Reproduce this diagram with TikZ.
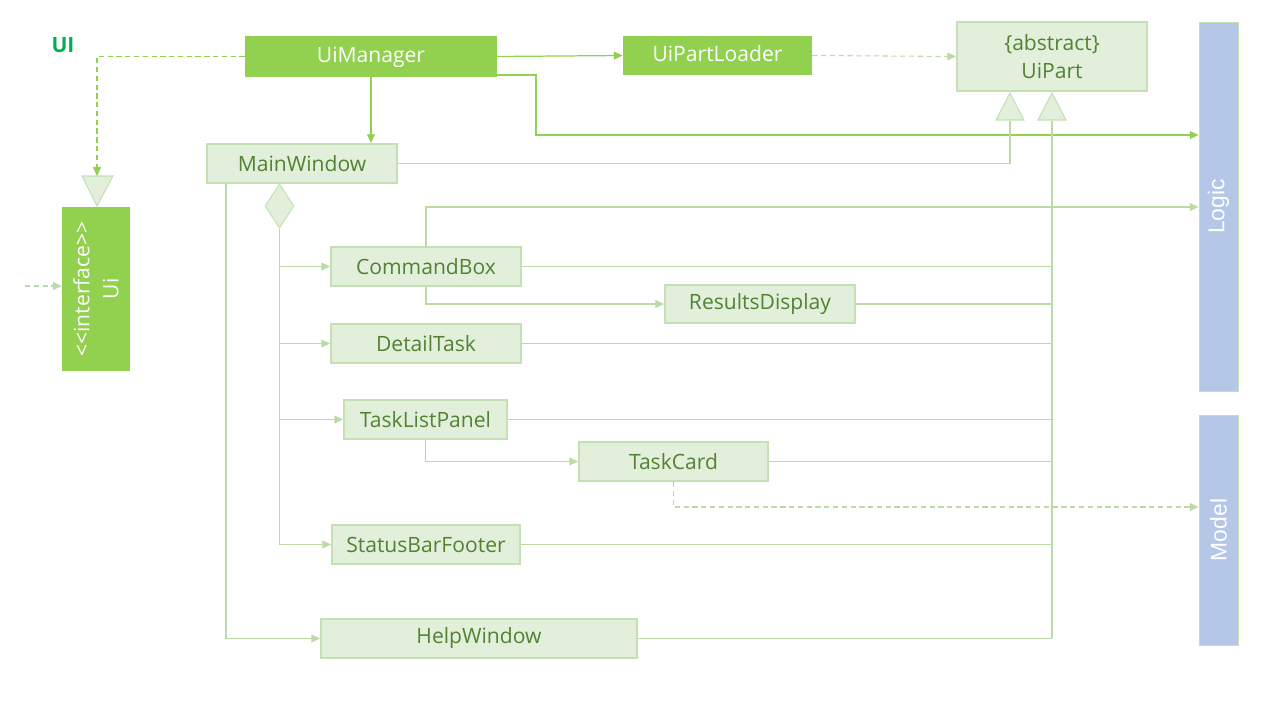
\documentclass[tikz,border=0pt]{standalone}
\usepackage{fontspec}
\setmainfont{Open Sans}
\newfontfamily\arialfont{Liberation Sans}
\usetikzlibrary{arrows.meta,shapes.geometric}

\definecolor{mgrgreen}{HTML}{92D050}
\definecolor{palefill}{HTML}{E2EFDA}
\definecolor{paleedge}{HTML}{C5E0B4}
\definecolor{linegreen}{HTML}{BCDAA6}
\definecolor{textgreen}{HTML}{548235}
\definecolor{pkgblue}{HTML}{B4C7E7}
\definecolor{labelgreen}{HTML}{00B050}

\tikzset{
  mgrbox/.style={fill=mgrgreen, text=white, inner sep=0pt, text height=10pt, text depth=3pt},
  partbox/.style={fill=palefill, draw=paleedge, line width=1.1pt, text=textgreen,
    inner sep=0pt, minimum width=3.8cm, minimum height=0.78cm},
  pkgbox/.style={fill=pkgblue, draw=paleedge, line width=0.5pt,
    inner sep=0pt, minimum width=0.78cm},
  pkgtext/.style={text=white, rotate=90, font=\arialfont\fontsize{13}{15}\selectfont},
  conn/.style={draw=linegreen, line width=0.6pt},
  mgrconn/.style={draw=mgrgreen, line width=0.7pt},
  tip/.style={-{Triangle[length=5pt,width=4.5pt]}},
  dashconn/.style={dash pattern=on 3pt off 2pt},
  gentri/.style={fill=palefill, draw=paleedge, line width=0.6pt},
}

\begin{document}
\begin{tikzpicture}[x=0.02cm, y=-0.02cm, font=\fontsize{12}{14}\selectfont]
    \useasboundingbox (0,0) rectangle (1280,720);

    % Package label
    \node[text=labelgreen, font=\bfseries\fontsize{12}{14}\selectfont] (uilabel) at (63,45) {UI};

    % Manager boxes
    \node[mgrbox, minimum width=5.04cm, minimum height=0.82cm] (uimgr) at (371,56.5) {UiManager};
    \node[mgrbox, minimum width=3.78cm, minimum height=0.78cm] (loader) at (717.5,55.5) {UiPartLoader};
    \node[mgrbox, rotate=90, align=center, text height=, text depth=,
          font=\fontsize{12}{16.5}\selectfont,
          minimum width=3.28cm, minimum height=1.36cm] (ui) at (96,289) {<{}<interface>{}>\\Ui};

    % Abstract part
    \node[partbox, minimum height=1.38cm, align=center,
          font=\fontsize{12}{16}\selectfont] (uipart) at (1052,56.5) {\{abstract\}\\UiPart};

    % Other components
    \node[pkgbox, minimum height=7.38cm] (logic) at (1218.5,206.5) {};
    \node[pkgtext] (logiclabel) at (logic) {Logic};
    \node[pkgbox, minimum height=4.6cm] (model) at (1218.5,530) {};
    \node[pkgtext] (modellabel) at (model) {Model};

    % Parts
    \node[partbox] (mainwin) at (302,163.5) {MainWindow};
    \node[partbox] (cmdbox) at (426,266.5) {CommandBox};
    \node[partbox, minimum height=0.76cm] (results) at (760,304) {ResultsDisplay};
    \node[partbox] (detail) at (426,343.5) {DetailTask};
    \node[partbox, minimum width=3.26cm] (tasklist) at (425.5,419.5) {TaskListPanel};
    \node[partbox, minimum width=3.78cm] (taskcard) at (673.5,461.5) {TaskCard};
    \node[partbox, minimum width=3.76cm] (status) at (426,544.5) {StatusBarFooter};
    \node[partbox, minimum width=6.32cm] (help) at (479,638.5) {HelpWindow};

    % Composition diamond
    \node[diamond, fill=palefill, draw=paleedge, line width=0.6pt, inner sep=0pt,
          minimum width=0.58cm, minimum height=0.88cm] (agg) at (279.5,206) {};

    % Generalisation triangles
    \coordinate (triui) at (97,176);
    \draw[gentri] (82,176) -- (113,176) -- (97,206) -- cycle;
    \coordinate (trimain) at (1010,121);
    \draw[gentri] (996,120) -- (1024,120) -- (1010,93) -- cycle;
    \coordinate (bus) at (1052,121);
    \draw[gentri] (1038,120) -- (1066,120) -- (1052,93) -- cycle;
    \coordinate (uiext) at (25,286);

    % Connectors from UiManager
    \draw[mgrconn, dashconn, tip] (uimgr.west) -| (triui);
    \draw[conn, dashconn, tip] (uiext) -- (ui.north |- uiext);
    \draw[mgrconn, tip] (uimgr.south) -- (uimgr.south |- mainwin.north);
    \draw[mgrconn, tip] (uimgr.east) -- (loader.west);
    \draw[conn, dashconn, tip] (loader.east) -- (uipart.west);
    \draw[mgrconn, tip] (uimgr.east |- 0,75) -| (536,135) -- (logic.west |- 0,135);

    % MainWindow
    \draw[conn] (mainwin.east) -| (trimain);
    \foreach \n in {cmdbox,detail,tasklist,status}
        \draw[conn, tip] (agg.south) |- (\n.west);
    \draw[conn, tip] (mainwin.south -| 226,0) |- (help.west);

    % Inner connectors
    \draw[conn, tip] (cmdbox.north) |- (logic.west |- 0,207);
    \draw[conn, tip] (cmdbox.south) |- (results.west);
    \draw[conn, tip] (tasklist.south) |- (taskcard.west);
    \draw[conn, dashconn, tip] (taskcard.south) |- (model.west |- 0,507);

    % Inheritance bus
    \draw[conn] (bus) -- (1052,638);
    \foreach \n in {cmdbox,results,detail,tasklist,taskcard,status,help}
        \draw[conn] (\n.east) -- (\n.east -| bus);

\end{tikzpicture}
\end{document}
